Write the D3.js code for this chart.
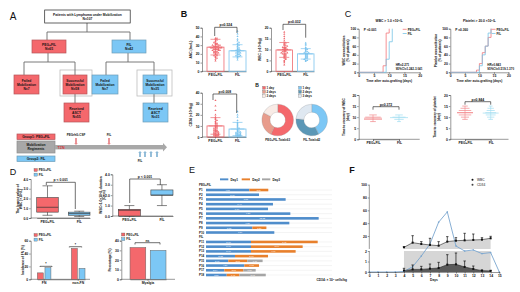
<!DOCTYPE html>
<html>
<head>
<meta charset="utf-8">
<script src="https://cdn.jsdelivr.net/npm/d3@7"></script>
<style>
  html, body { margin: 0; padding: 0; background: #fff; }
  svg { display: block; font-family: "Liberation Sans", Arial, sans-serif; }
  .axis text { font-size: 3.4px; font-weight: bold; fill: #111; font-family: "Liberation Sans", Arial, sans-serif; }
  .axis path, .axis line { stroke: #333; stroke-width: 0.5; }
</style>
</head>
<body>
<svg id="chart" width="520" height="292"></svg>
<script>
// Panel B values
var groups = ["PEG+FIL", "FIL"];
var ancPeg = [12,14,15,16,17,18,18,19,20,20,21,21,22,22,22,23,23,23,24,24,24,25,25,25,25,26,26,26,26,27,27,27,27,28,28,28,28,29,29,29,30,30,30,31,31,32,32,33,34,35,36,37,38,38];
var ancFil = [13,15,16,17,17,18,18,19,19,20,20,21,21,22,22,23,23,24,24,25,25,26,27,28,29,30,31,32,33,35,37,40,43,46];
var wbcPeg = [3,4,4.5,5,5.5,6,6,6.5,7,7,7.5,7.5,8,8,8,8.5,8.5,9,9,9,9.5,9.5,10,10,10,10,10.5,10.5,11,11,11,11.5,12,12,12.5,13,13,14,15,16,17,18];
var wbcFil = [4.5,5,5,5.5,6,6,6.5,6.5,7,7,7.5,7.5,8,8,8.5,8.5,9,9,9.5,10,10,10.5,11,12,12.5,13];
var cdPeg = [0.5,0.7,1,1,1.5,1.5,2,2,2.5,2.5,3,3,3.5,4,4,4.5,5,5,5.5,6,6,6.5,7,7.5,8,8.5,9,9.5,10,10.5,11,12,12.5,13,14,15,16,17,18,20,24,28,33];
var cdFil = [0.5,0.7,1,1,1.5,1.5,2,2,2.5,2.5,3,3,3.5,4,4,4.5,5,5.5,6,7,8,9,10,11,12,13,15,18,20,23];
var ancMean = [27.7, 23.5], ancSd = [9, 7];
var wbcMean = [9.8, 8], wbcSd = [3.4, 2.4];
var cdMean = [10, 7.2], cdSd = [7.5, 6];

// Collection days donuts
var dayLabels = ["1 day", "2 days", "3 days"];
var donutPeg = [36, 16, 11];
var donutFil = [18, 14, 10];

// Panel C, recovery steps
var wbcStepDays = [0, 8, 9, 10];
var wbcStepPeg = [0, 15, 90, 100];
var wbcStepDaysFil = [0, 9, 10, 11];
var wbcStepFil = [0, 30, 70, 100];
var pltStepDays = [0, 9, 10, 11, 12, 13, 14];
var pltStepPeg = [0, 5, 20, 45, 60, 80, 100];
var pltStepDaysFil = [0, 10, 11, 12, 13, 14];
var pltStepFil = [0, 15, 40, 60, 90, 100];
var recWbcDays = [8, 9, 10, 11];
var recWbcPeg = [6, 26, 22, 9];
var recWbcFil = [3, 12, 18, 9];
var recPltDays = [9, 10, 11, 12, 13, 14, 15];
var recPltPeg = [4, 7, 12, 16, 12, 8, 4];
var recPltFil = [3, 6, 9, 10, 7, 5, 2];

// Panel D
var lowWbcBoxes = [[0.28, 0.6, 1.1, 2.1, 3.3], [0.15, 0.28, 0.45, 0.6, 0.7]];
var durationBoxes = [[0, 0, 0.55, 0.64, 1], [1, 2, 2, 2.5, 3]];
var fnCats = ["FN", "non-FN"];
var fnPeg = [10, 48];
var fnFil = [18, 17];
var myalgiaPeg = [33];
var myalgiaFil = [30];

// Panel E, CD34 per collection day
var rowLabels = ["PEG+FIL","P1","P2","P3","P4","P5","P6","P7","P8","P9","P10","FIL","P11","P12","P13","P14","P15","P16","P17","P18"];
var patients = ["P1","P2","P3","P4","P5","P6","P7","P8","P9","P10","P11","P12","P13","P14","P15","P16","P17","P18"];
var day1 = [4.81,5.89,8.85,7.44,6.89,9.37,12.52,9.26,5.15,7.59,5.00,5.00,5.00,3.22,2.48,4.26,2.04,2.30];
var day2 = [2.11,0,0,0,0,0,0,0,1.56,0,7.41,5.74,4.96,3.67,2.11,1.63,2.11,1.41];
var day3 = [0,0,0,0,0,0,0,0,0,0,0,0,0,0,1.70,0,1.37,2.93];

// Panel F
var fDays = [0,1,2,3,4,5,6,7,8,9,10,11,12,13,14,15];
var gridDays = [4,5,6,7,8,9,10,11,12,13,14];
var wbcLine = [2.9,9.6,7.5,6,4.9,11.2,12.7,13.2,13.8,14.3,16.4];
var wbcTop = [3.3,20.5,11.2,16.4,11.2,19,17.4,24.2,23.1,17.4,19.5];
var cdLine = [0.13,0.25,0.25,0.32,0.38,0.7,0.73,0.48,0.29,0.13,0.1];
var cdTop = [0.35,0.67,0.54,0.76,0.92,1.65,1.81,1.05,0.57,0.19,0.16];
var yieldLine = [0,0,0,0,0.06,0.5,1.52,7.5,41.5,57.5,4.4,2,2.25,1.75,1.85,0];

var RED = "#f4686c", BLUE = "#7cc7f5", REDLINE = "#b5565a", BLUELINE = "#6e9db8";
var svg = d3.select("#chart");

// text helper, most labels here are tiny
function label(x, y, str, size, opts) {
  opts = opts || {};
  var t = svg.append("text")
    .attr("x", x).attr("y", y)
    .attr("font-size", size)
    .attr("font-weight", opts.weight || "bold")
    .attr("fill", opts.fill || "#111")
    .attr("text-anchor", opts.anchor || "middle")
    .text(str);
  if (opts.rot) t.attr("transform", "rotate(" + opts.rot + " " + x + " " + y + ")");
  return t;
}
function seg(x1, y1, x2, y2, colour, w) {
  svg.append("line").attr("x1", x1).attr("y1", y1).attr("x2", x2).attr("y2", y2)
    .attr("stroke", colour || "#333").attr("stroke-width", w || 0.5);
}
function rotLabel(x, y, lines, size) {
  lines.forEach(function(l, i) { label(x + i * (size + 0.6), y, l, size, {rot: -90}); });
}
function axisLeft(scale, x, ticks) {
  svg.append("g").attr("class", "axis").attr("transform", "translate(" + x + ",0)")
    .call(d3.axisLeft(scale).tickValues(ticks).tickSize(1.5).tickPadding(1));
}
function axisBottomBand(scale, y, x0, x1) {
  svg.append("g").attr("class", "axis").attr("transform", "translate(0," + y + ")")
    .call(d3.axisBottom(scale).tickSize(1.5).tickPadding(1).tickSizeOuter(0));
  seg(x0, y, x1, y);
}
function bracket(x0, y0, x1, y1, y, text, colour) {
  var c = colour || "#333";
  seg(x0, y0, x0, y, c, 0.7); seg(x0, y, x1, y, c, 0.7); seg(x1, y, x1, y1, c, 0.7);
  label((x0 + x1) / 2, y - 0.9, text, 3.4);
}

// ---------- A: flow chart ----------
label(13, 20, "A", 10, {weight: "normal"});
function flowBox(x, y, w, h, fill, stroke, lines) {
  svg.append("rect").attr("x", x).attr("y", y).attr("width", w).attr("height", h)
    .attr("fill", fill).attr("stroke", stroke).attr("stroke-width", 0.7);
  var start = y + h / 2 - (lines.length - 1) * 2 + 1.1;
  lines.forEach(function(l, i) { label(x + w / 2, start + i * 4, l, 3.3); });
}
var frameCol = "#bdbdbd", flowCol = "#6b6b6b";
[[60, 92], [137, 172]].forEach(function(f) {
  svg.append("rect").attr("x", f[0]).attr("y", 70).attr("width", f[1] - f[0]).attr("height", 26)
    .attr("fill", "#fff").attr("stroke", frameCol).attr("stroke-width", 0.8);
});
[[87,23,87,32],[47,32,130,32],[47,32,47,40],[130,32,130,40],
 [48,53,48,62],[24,62,75,62],[24,62,24,75],[75,62,75,75],
 [128,53,128,62],[106,62,154,62],[106,62,106,75],[154,62,154,75],
 [75,94,75,103],[154,94,154,103]].forEach(function(s) { seg(s[0], s[1], s[2], s[3], flowCol, 0.9); });
flowBox(44.7, 10, 85.5, 13, "#fff", "#222", ["Patients with Lymphoma under Mobilization", "N=107"]);
flowBox(32, 40, 34, 13, RED, REDLINE, ["PEG+FIL", "N=65"]);
flowBox(112, 40, 34, 13, BLUE, BLUELINE, ["FIL", "N=42"]);
flowBox(14, 75, 25, 19, RED, REDLINE, ["Failed", "Mobilization", "N=7"]);
flowBox(63, 75, 24, 19, RED, REDLINE, ["Successful", "Mobilization", "N=58"]);
flowBox(64, 103, 25, 19, RED, REDLINE, ["Received", "ASCT", "N=55"]);
flowBox(92, 75, 26, 19, BLUE, BLUELINE, ["Failed", "Mobilization", "N=7"]);
flowBox(143, 75, 24, 19, BLUE, BLUELINE, ["Successful", "Mobilization", "N=35"]);
flowBox(143, 103, 25, 19, BLUE, BLUELINE, ["Received", "ASCT", "N=31"]);

// timeline
flowBox(17, 134, 38, 5.5, RED, REDLINE, ["Group1:  PEG+FIL"]);
flowBox(17, 141, 38, 12, "#a8a8a8", "#8f8f8f", ["Mobilization", "Regiments"]);
flowBox(17, 156, 38, 5.5, BLUE, BLUELINE, ["Group2:  FIL"]);
svg.append("rect").attr("x", 55).attr("y", 145).attr("width", 108).attr("height", 4.4).attr("fill", "#a8a8a8");
svg.append("path").attr("d", "M163,143 L167,147.2 L163,151.4 Z").attr("fill", "#a8a8a8");
label(61, 149, "TZN", 3.6, {fill: "#d9363a"});
function blockArrow(x, y0, y1, colour) {
  var dir = y1 > y0 ? 1 : -1;
  svg.append("path").attr("fill", colour)
    .attr("d", "M" + (x - 0.9) + "," + y0 + " H" + (x + 0.9) + " V" + (y1 - dir * 2) + " H" + (x + 1.8) +
      " L" + x + "," + y1 + " L" + (x - 1.8) + "," + (y1 - dir * 2) + " H" + (x - 0.9) + " Z");
}
blockArrow(76, 138, 145, "#e98b8e");
blockArrow(109, 138, 145, "#e98b8e");
[140, 145, 151, 157].forEach(function(x) { blockArrow(x, 157, 151, "#8bb8d6"); });
label(76, 136, "PEGrhG-CSF", 3);
label(109, 136, "FIL", 3);
label(140, 161.5, "FIL", 3);

// ---------- B: scatter with bars ----------
label(184, 17, "B", 9);
function scatterBars(cfg) {
  var y = d3.scaleLinear().domain([0, cfg.max]).range([cfg.y0, cfg.y1]);
  var x = d3.scaleBand().domain(groups).range([cfg.x0 + 5, cfg.x1]).paddingInner(0.23);
  axisLeft(y, cfg.x0, cfg.ticks);
  axisBottomBand(x, cfg.y0, cfg.x0, cfg.x1);
  [cfg.peg, cfg.fil].forEach(function(vals, g) {
    var col = g ? "#7cc4ee" : "#ee6a70";
    var name = groups[g], bw = x.bandwidth(), cx = x(name) + bw / 2;
    svg.append("rect").attr("x", x(name)).attr("y", y(cfg.mean[g]))
      .attr("width", bw).attr("height", cfg.y0 - y(cfg.mean[g]))
      .attr("fill", "none").attr("stroke", col).attr("stroke-width", 0.8);
    // simple swarm: one row per pixel band
    var rows = d3.group(vals, function(v) { return Math.round(y(v) / 1.3); });
    rows.forEach(function(row) {
      row.forEach(function(v, i) {
        var off = (i % 2 ? 1 : -1) * Math.ceil(i / 2) * 1.5;
        svg.append("path").attr("d", d3.symbol(d3.symbolTriangle, 2)())
          .attr("transform", "translate(" + (cx + off) + "," + y(v) + ")")
          .attr("fill", col);
      });
    });
    var hi = y(cfg.mean[g] + cfg.sd[g]), lo = y(Math.max(0, cfg.mean[g] - cfg.sd[g]));
    seg(cx, hi, cx, lo, col, 0.6);
    seg(cx - 5, hi, cx + 5, hi, col, 0.7);
    seg(cx - 5, lo, cx + 5, lo, col, 0.7);
    seg(cx - 7, y(cfg.mean[g]), cx + 7, y(cfg.mean[g]), col, 0.8);
  });
  rotLabel(cfg.x0 - 10, (cfg.y0 + cfg.y1) / 2, [cfg.title], 3.3);
}
scatterBars({peg: ancPeg, fil: ancFil, mean: ancMean, sd: ancSd, max: 50, ticks: [0,10,20,30,40,50],
  x0: 202, x1: 246, y0: 71.3, y1: 27.7, title: "ANC (/mcL)"});
scatterBars({peg: wbcPeg, fil: wbcFil, mean: wbcMean, sd: wbcSd, max: 20, ticks: [0,5,10,15,20],
  x0: 271, x1: 314, y0: 71.3, y1: 27.7, title: "WBC (×10⁹/kg)"});
scatterBars({peg: cdPeg, fil: cdFil, mean: cdMean, sd: cdSd, max: 40, ticks: [0,10,20,30,40],
  x0: 202, x1: 246, y0: 137, y1: 92.7, title: "CD34 (×10⁶/kg)"});
bracket(214.7, 36, 237, 33, 27.3, "p=0.524");
bracket(283, 30, 305.7, 37.7, 24.3, "p=0.032");
bracket(213, 100, 236.7, 113, 94, "p=0.008");

// donuts
label(257, 87, "B", 5);
var pie = d3.pie().sort(null);
var arc = d3.arc().innerRadius(7.8).outerRadius(15.8);
function donut(cx, vals, colours, title) {
  var g = svg.append("g").attr("transform", "translate(" + cx + ",120)");
  g.selectAll("path").data(pie(vals)).enter().append("path")
    .attr("d", arc).attr("fill", function(d, i) { return colours[i]; })
    .attr("stroke", "#888").attr("stroke-width", 0.25);
  label(cx, 141, title, 2.9);
}
var pegCols = ["#f4686c", "#e89c8c", "#f8ebe6"], filCols = ["#7cc7f5", "#5b97b6", "#dfe8f1"];
donut(277.7, donutPeg, pegCols, "PEG+FIL-Total=63");
donut(311.7, donutFil, filCols, "FIL-Total=42");
[[262.5, pegCols], [298.5, filCols]].forEach(function(l) {
  dayLabels.forEach(function(d, i) {
    svg.append("rect").attr("x", l[0]).attr("y", 86.3 + i * 4).attr("width", 3).attr("height", 3)
      .attr("fill", l[1][i]).attr("stroke", "#777").attr("stroke-width", 0.3);
    label(l[0] + 4, 89 + i * 4, d, 3, {anchor: "start"});
  });
});

// ---------- C ----------
label(348, 17, "C", 9, {weight: "normal"});
function stepPlot(cfg) {
  var x = d3.scaleLinear().domain([0, 20]).range([cfg.x0, cfg.x1]);
  var y = d3.scaleLinear().domain([0, 100]).range([72.3, 28.7]);
  axisLeft(y, cfg.x0, [0,20,40,60,80,100]);
  svg.append("g").attr("class", "axis").attr("transform", "translate(0,72.3)")
    .call(d3.axisBottom(x).tickValues([0,5,10,15,20]).tickSize(1.5).tickPadding(1));
  var line = d3.line().curve(d3.curveStepAfter).x(function(d) { return x(d[0]); }).y(function(d) { return y(d[1]); });
  [[cfg.dayPeg, cfg.peg, "#f2767a"], [cfg.dayFil, cfg.fil, "#77c4e6"]].forEach(function(s) {
    svg.append("path").attr("fill", "none").attr("stroke", s[2]).attr("stroke-width", 0.8)
      .attr("d", line(d3.zip(s[0], s[1])));
  });
  label((cfg.x0 + cfg.x1) / 2, 22, cfg.title, 3.3);
  label(cfg.x0 + 5, 31, cfg.p, 3.2, {anchor: "start"});
  label((cfg.x0 + cfg.x1) / 2, 82, "Time after auto-grafting (days)", 3.2);
  label(cfg.x0 + 37, 66, cfg.hr, 3, {anchor: "start"});
  label(cfg.x0 + 37, 70, cfg.ci, 3, {anchor: "start"});
  groups.forEach(function(g, i) {
    seg(cfg.x1 - 17, 29.3 + i * 4.2, cfg.x1 - 13, 29.3 + i * 4.2, i ? "#77c4e6" : "#f2767a", 0.8);
    label(cfg.x1 - 12, 30.5 + i * 4.2, g, 3, {anchor: "start"});
  });
  rotLabel(cfg.x0 - 13.5, 50.5, cfg.ylab, 3.2);
}
stepPlot({x0: 358.7, x1: 419.7, dayPeg: wbcStepDays, peg: wbcStepPeg, dayFil: wbcStepDaysFil, fil: wbcStepFil,
  title: "WBC > 1.0 ×10⁹/L", p: "P <0.001", hr: "HR=2.271", ci: "95%CI=1.242-3.041",
  ylab: ["WBC reconstitution", "(% of patients)"]});
stepPlot({x0: 450.3, x1: 508.5, dayPeg: pltStepDays, peg: pltStepPeg, dayFil: pltStepDaysFil, fil: pltStepFil,
  title: "Platelet > 20.0 ×10⁹/L", p: "P =0.360", hr: "HR=0.843", ci: "95%CI=0.519-1.370",
  ylab: ["Platelet reconstitution", "(% of patients)"]});

function dashPlot(cfg) {
  var y = d3.scaleLinear().domain([0, 20]).range([139.3, 95]);
  var x = d3.scalePoint().domain(groups).range([cfg.cx0, cfg.cx1]);
  var w = d3.scaleLinear().domain([0, d3.max(cfg.peg.concat(cfg.fil))]).range([1, cfg.half]);
  axisLeft(y, cfg.x0, [0,5,10,15,20]);
  svg.append("g").attr("class", "axis").attr("transform", "translate(0,139.3)")
    .call(d3.axisBottom(x).tickSize(1.5).tickPadding(1));
  seg(cfg.x0, 139.3, cfg.x1, 139.3);
  [[cfg.peg, "#f2868a"], [cfg.fil, "#9fdcf0"]].forEach(function(s, g) {
    var cx = x(groups[g]);
    var mean = d3.sum(cfg.days, function(d, i) { return d * s[0][i]; }) / d3.sum(s[0]);
    cfg.days.forEach(function(d, i) {
      seg(cx - w(s[0][i]), y(d), cx + w(s[0][i]), y(d), s[1], 0.7);
    });
    seg(cx, y(d3.min(cfg.days)), cx, y(d3.max(cfg.days)), s[1], 0.6);
    seg(cx - cfg.half, y(mean), cx + cfg.half, y(mean), s[1], 0.7);
  });
  bracket(cfg.cx0, cfg.by + 3, cfg.cx1, cfg.by + 3, cfg.by, cfg.p);
  rotLabel(cfg.x0 - 14, 117, cfg.ylab, 3.2);
}
dashPlot({x0: 358.7, x1: 419.7, cx0: 373, cx1: 399, days: recWbcDays, peg: recWbcPeg, fil: recWbcFil, half: 9, by: 106.7,
  p: "p=0.372", ylab: ["Time to recovery of WBC", "(day)"]});
dashPlot({x0: 450.3, x1: 508.5, cx0: 465, cx1: 490.7, days: recPltDays, peg: recPltPeg, fil: recPltFil, half: 8, by: 101.7,
  p: "p=0.844", ylab: ["Time to recovery of platelet", "(day)"]});

// ---------- D ----------
label(13, 175, "D", 9, {weight: "normal"});
function twoLegend(x, y) {
  groups.forEach(function(g, i) {
    svg.append("rect").attr("x", x).attr("y", y + i * 4.6).attr("width", 3.4).attr("height", 3)
      .attr("fill", i ? BLUE : RED).attr("stroke", "#555").attr("stroke-width", 0.3);
    label(x + 4.8, y + 2.6 + i * 4.6, g, 3, {anchor: "start"});
  });
}
function boxPlot(cfg) {
  var y = d3.scaleLinear().domain(cfg.domain).range(cfg.range);
  var x = d3.scaleBand().domain(groups).range([cfg.x0 + cfg.gap, cfg.x1]).paddingInner(0.32);
  axisLeft(y, cfg.x0, cfg.ticks);
  axisBottomBand(x, cfg.range[0], cfg.x0, cfg.x1);
  cfg.boxes.forEach(function(b, i) {
    var bx = x(groups[i]), bw = x.bandwidth(), c = bx + bw / 2;
    seg(c, y(b[0]), c, y(b[4]), "#333", 0.6);
    seg(c - 5, y(b[0]), c + 5, y(b[0]), "#333", 0.6);
    seg(c - 5, y(b[4]), c + 5, y(b[4]), "#333", 0.6);
    svg.append("rect").attr("x", bx).attr("y", y(b[3])).attr("width", bw)
      .attr("height", y(b[1]) - y(b[3])).attr("fill", i ? BLUE : RED)
      .attr("stroke", "#444").attr("stroke-width", 0.6);
    seg(bx, y(b[2]), bx + bw, y(b[2]), "#333", 0.7);
  });
}
boxPlot({boxes: lowWbcBoxes, domain: [0, 4], range: [218, 179], ticks: [0,1,2,3,4], x0: 30.7, x1: 90, gap: 6});
bracket(46.3, 185, 75.3, 209, 182.3, "p < 0.001");
rotLabel(18.5, 199, ["The lowest value of", "WBC (×10⁹/L)"], 3.2);
boxPlot({boxes: durationBoxes, domain: [0, 4], range: [216, 174.3], ticks: [0,1,2,3,4], x0: 112.3, x1: 173, gap: 6});
bracket(129.7, 203, 160.3, 185, 179, "p < 0.001");
rotLabel(101.5, 195, ["WBC<1.0×10⁹/L duration", "(Days)"], 3.2);
twoLegend(34, 168.5);

function fnBars(cfg) {
  var y = d3.scaleLinear().domain([0, cfg.max]).range([279.3, 240.7]);
  var x0 = d3.scaleBand().domain(cfg.cats).range(cfg.rangeX).paddingInner(cfg.pad);
  var x1 = d3.scaleBand().domain(groups).range([0, x0.bandwidth()]).paddingInner(0.22);
  axisLeft(y, cfg.ax, cfg.ticks);
  axisBottomBand(x0, 279.3, cfg.ax, cfg.axEnd);
  [cfg.peg, cfg.fil].forEach(function(vals, g) {
    vals.forEach(function(v, i) {
      svg.append("rect").attr("x", x0(cfg.cats[i]) + x1(groups[g])).attr("y", y(v))
        .attr("width", x1.bandwidth()).attr("height", 279.3 - y(v))
        .attr("fill", g ? BLUE : RED).attr("stroke", "#666").attr("stroke-width", 0.5);
    });
  });
}
fnBars({cats: fnCats, peg: fnPeg, fil: fnFil, max: 60, ticks: [0,20,40,60], rangeX: [37.3, 85], pad: 0.6, ax: 30.7, axEnd: 90});
bracket(40, 267, 52, 267, 266.3, "*");
bracket(69.3, 247.4, 81.7, 247.4, 246.7, "*");
rotLabel(23.5, 260, ["Incidence of FN (%)"], 3.2);
twoLegend(34, 233.5);
fnBars({cats: ["Myalgia"], peg: myalgiaPeg, fil: myalgiaFil, max: 40, ticks: [0,10,20,30,40], rangeX: [130, 166], pad: 0, ax: 121.3, axEnd: 175});
bracket(135, 244.5, 160, 244.5, 242.7, "ns");
rotLabel(110.5, 260, ["Percentage (%)"], 3.2);
twoLegend(121.5, 233);

// ---------- E: stacked bars ----------
label(192, 173, "E", 9, {weight: "normal"});
var eCols = ["#4f8dcb", "#e8802c", "#a5a5a5"];
var dayNames = ["Day1", "Day2", "Day3"];
var table = patients.map(function(p, i) { return {id: p, Day1: day1[i], Day2: day2[i], Day3: day3[i]}; });
var yE = d3.scalePoint().domain(rowLabels).range([185.3, 275]);
var xE = d3.scaleLinear().domain([0, 14]).range([206, 332]);
rowLabels.forEach(function(r) {
  if (r !== "PEG+FIL" && r !== "FIL") seg(206, yE(r), 332, yE(r), "#e4e4e4", 0.4);
  label(199, yE(r) + 1, r, 2.9, {anchor: "start"});
});
d3.stack().keys(dayNames)(table).forEach(function(layer, k) {
  layer.forEach(function(d) {
    var w = xE(d[1]) - xE(d[0]);
    if (w <= 0) return;
    svg.append("rect").attr("x", xE(d[0])).attr("y", yE(d.data.id) - 1.3)
      .attr("width", w).attr("height", 2.6).attr("fill", eCols[k]);
    label((xE(d[0]) + xE(d[1])) / 2, yE(d.data.id) + 0.8, (d[1] - d[0]).toFixed(2), 2.2, {fill: "#fff", weight: "normal"});
  });
});
dayNames.forEach(function(d, i) {
  var sx = [220, 241.7, 262][i];
  svg.append("rect").attr("x", sx).attr("y", 178.4).attr("width", 8.3).attr("height", 1.9).attr("fill", eCols[i]);
  label(sx + 10.5, 180.6, d, 3.2, {anchor: "start"});
});
label(316.5, 281, "CD34: × 10⁶ cells/kg", 3.2, {anchor: "start"});

// ---------- F: broken axis ----------
label(352, 173, "F", 9);
var xF = d3.scaleLinear().domain([0, 15]).range([369.3, 499.3]);
var yF = d3.scaleLinear().domain([0, 2, 3, 100]).range([272, 251, 246.9, 184.67]);
svg.append("rect").attr("x", xF(4)).attr("y", yF(2)).attr("width", xF(14) - xF(4))
  .attr("height", yF(0) - yF(2)).attr("fill", "#d6d6d6");
var upperArea = d3.area().x(function(d) { return xF(d[0]); }).y0(yF(2.5)).y1(function(d) { return yF(d[1]); });
var lowerArea = d3.area().x(function(d) { return xF(d[0]); }).y0(yF(0)).y1(function(d) { return yF(d[1]); });
svg.append("path").attr("d", upperArea(d3.zip(gridDays, wbcLine))).attr("fill", "#d6d6d6");
svg.append("path").attr("d", lowerArea(d3.zip(gridDays, cdLine))).attr("fill", "#5a5a5a");
var lineF = d3.line().x(function(d) { return xF(d[0]); }).y(function(d) { return yF(d[1]); });
svg.append("path").attr("d", lineF(d3.zip(fDays, yieldLine))).attr("fill", "none").attr("stroke", "#7aa6cf").attr("stroke-width", 0.9);
d3.zip(fDays, yieldLine).forEach(function(p) {
  svg.append("rect").attr("x", xF(p[0]) - 0.7).attr("y", yF(p[1]) - 0.7).attr("width", 1.4).attr("height", 1.4).attr("fill", "#7aa6cf");
});
[[wbcLine, wbcTop], [cdLine, cdTop]].forEach(function(s) {
  svg.append("path").attr("d", lineF(d3.zip(gridDays, s[0]))).attr("fill", "none").attr("stroke", "#222").attr("stroke-width", 0.6);
  gridDays.forEach(function(d, i) {
    seg(xF(d), yF(s[0][i]), xF(d), yF(s[1][i]), "#111", 0.7);
    seg(xF(d) - 1.2, yF(s[1][i]), xF(d) + 1.2, yF(s[1][i]), "#111", 0.7);
    svg.append("rect").attr("x", xF(d) - 1).attr("y", yF(s[0][i]) - 1).attr("width", 2).attr("height", 2).attr("fill", "#111");
  });
});
var yAxisF = svg.append("g").attr("class", "axis").attr("transform", "translate(369.3,0)")
  .call(d3.axisLeft(yF).tickValues([0,1,2,20,40,60,80,100]).tickSize(1.5).tickPadding(1));
yAxisF.select(".domain").remove();
seg(369.3, yF(100), 369.3, yF(2.5));
seg(369.3, yF(2), 369.3, yF(0));
svg.append("g").attr("class", "axis").attr("transform", "translate(0,272)")
  .call(d3.axisBottom(xF).tickValues(fDays).tickFormat(d3.format("d")).tickSize(1.5).tickPadding(1));
label(434, 281, "Days", 3.3);
["WBC", "CD34"].forEach(function(n, i) {
  svg.append("circle").attr("cx", 472.5).attr("cy", 179.7 + i * 5).attr("r", 1).attr("fill", i ? "#444" : "#111");
  label(477, 181 + i * 5, n, 3.2, {anchor: "start", weight: "normal"});
});
</script>
</body>
</html>
